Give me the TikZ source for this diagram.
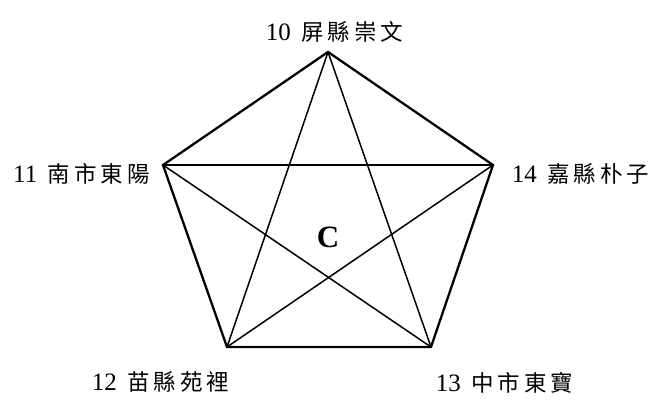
\documentclass[tikz,border=0pt]{standalone}
\usepackage{fontspec}
\setmainfont{Liberation Serif}
\newfontfamily\cjk[LetterSpace=18]{Noto Sans CJK TC}
\usetikzlibrary{positioning}

\begin{document}
\begin{tikzpicture}[
          x=1pt, y=-1pt,
          every node/.style={inner sep=0pt},
          placelbl/.style={font=\cjk\fontsize{22.5}{26}\selectfont},
          numlbl/.style={font=\fontsize{25}{28}\selectfont,left=10pt of #1},
          edge/.style={line width=2.3pt,line join=miter},
          chord/.style={line width=1.5pt},
      ]
        \useasboundingbox (0,0) rectangle (652,405);
        % corners
        \coordinate (v10) at (328,52);
        \coordinate (v11) at (163,165);
        \coordinate (v14) at (493,165);
        \coordinate (v12) at (227,347);
        \coordinate (v13) at (431,347);

        % outline
        \draw[edge] (v10) -- (v14) -- (v13) -- (v12) -- (v11) -- cycle;
        % star
        \draw[chord] (v10) -- (v12);
        \draw[chord] (v10) -- (v13);
        \draw[chord] (v11) -- (v14);
        \draw[chord] (v11) -- (v13);
        \draw[chord] (v14) -- (v12);

        % labels
        \node[placelbl,anchor=west] (l10) at (301,32) {屏縣崇文};
        \node[placelbl,anchor=east] (l11) at (150,174) {南市東陽};
        \node[placelbl,anchor=west] (l14) at (547,174) {嘉縣朴子};
        \node[placelbl,anchor=west] (l12) at (127,382) {苗縣苑裡};
        \node[placelbl,anchor=west] (l13) at (471,383) {中市東寶};
        \node[numlbl=l10] (n10) {10};
        \node[numlbl=l11] (n11) {11};
        \node[numlbl=l14] (n14) {14};
        \node[numlbl=l12] (n12) {12};
        \node[numlbl=l13] (n13) {13};
        \node[font=\fontsize{31}{34}\selectfont\bfseries] (c) at (328,237) {C};
      \end{tikzpicture}
\end{document}
